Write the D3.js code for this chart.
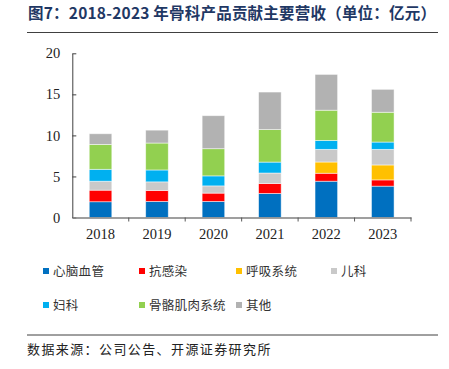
<!DOCTYPE html>
<html>
<head>
<meta charset="utf-8">
<script src="https://cdn.jsdelivr.net/npm/d3@7"></script>
<style>
  body { margin: 0; background: #fff; }
  svg { display: block; }
</style>
</head>
<body>
<div id="chart"></div>
<script>
// data (亿元)
const years = ["2018", "2019", "2020", "2021", "2022", "2023"];
const seriesNames = ["心脑血管", "抗感染", "呼吸系统", "儿科", "妇科", "骨骼肌肉系统", "其他"];
const cardio   = [1.92, 1.96, 1.96, 2.93, 4.42, 3.82];
const antiInf  = [1.41, 1.34, 1.01, 1.21, 0.97, 0.76];
const resp     = [0, 0, 0, 0, 1.37, 1.82];
const pediat   = [1.09, 1.04, 0.88, 1.28, 1.54, 1.90];
const gyn      = [1.45, 1.45, 1.22, 1.33, 1.09, 0.89];
const musculo  = [3.03, 3.28, 3.31, 3.96, 3.68, 3.63];
const other    = [1.30, 1.57, 4.02, 4.57, 4.36, 2.79];
const yTicks   = [0, 5, 10, 15, 20];

const colors = ["#0070C0", "#FF0000", "#FFC000", "#C9C9C9", "#00B0F0", "#92D050", "#B2B2B2"];
const seriesValues = [cardio, antiInf, resp, pediat, gyn, musculo, other];

const W = 449, H = 369;
const serif = "'Times New Roman', 'Liberation Serif', serif";
const cjk = "'Noto Sans CJK SC', sans-serif";

const svg = d3.select("#chart")
    .append("svg")
        .attr("width", W)
        .attr("height", H);

// title + rule
svg.append("text")
    .attr("x", 28)
    .attr("y", 19)
    .attr("fill", "#1F3864")
    .attr("font-family", cjk)
    .attr("font-weight", "bold")
    .attr("font-size", 15.5)
    .attr("textLength", 408)
    .attr("lengthAdjust", "spacing")
    .text("图7：2018-2023 年骨科产品贡献主要营收（单位：亿元）");

svg.append("line")
    .attr("x1", 27).attr("x2", 438)
    .attr("y1", 32.5).attr("y2", 32.5)
    .attr("stroke", "#404040")
    .attr("stroke-width", 1);

// scales
const x = d3.scaleBand()
    .domain(years)
    .range([72.3, 411])
    .paddingInner(0.6)
    .paddingOuter(0.3);

const y = d3.scaleLinear()
    .domain([0, 20])
    .range([217.5, 53.3]);

// stacked table built from the arrays
const table = years.map((yr, i) => {
    const row = {year: yr};
    seriesNames.forEach((s, k) => row[s] = seriesValues[k][i]);
    return row;
});
const stacked = d3.stack().keys(seriesNames)(table);

// bars
svg.append("g")
    .selectAll("g")
    .data(stacked)
    .join("g")
        .attr("fill", (d, k) => colors[k])
    .selectAll("rect")
    .data(d => d.filter(p => p[1] - p[0] > 0))
    .join("rect")
        .attr("x", d => x(d.data.year))
        .attr("width", x.bandwidth())
        .attr("y", d => y(d[1]))
        .attr("height", d => y(d[0]) - y(d[1]))
        .attr("stroke", "rgba(255,255,255,0.6)")
        .attr("stroke-width", 0.8);

// y axis
const yAxis = svg.append("g")
    .attr("transform", `translate(${x.range()[0]},0)`)
    .call(d3.axisLeft(y).tickValues(yTicks).tickSizeInner(-4).tickSizeOuter(0).tickPadding(12));
yAxis.select(".domain").attr("stroke", "#404040");
yAxis.selectAll(".tick line").attr("stroke", "#404040");
yAxis.selectAll("text")
    .attr("font-family", serif)
    .attr("font-size", 14.5)
    .attr("fill", "#222");

// x axis
const xAxis = svg.append("g")
    .attr("transform", `translate(0,${y(0)})`)
    .call(d3.axisBottom(x).tickSize(0).tickPadding(11));
xAxis.select(".domain").attr("stroke", "#7F7F7F").attr("stroke-width", 1.3);
xAxis.selectAll("text")
    .attr("font-family", serif)
    .attr("font-size", 14.5)
    .attr("fill", "#222");

// boundary ticks between categories
const gap = (x.step() - x.bandwidth()) / 2;
xAxis.append("g")
    .selectAll("line")
    .data(years)
    .join("line")
        .attr("x1", d => x(d) + x.bandwidth() + gap)
        .attr("x2", d => x(d) + x.bandwidth() + gap)
        .attr("y1", 0)
        .attr("y2", 4)
        .attr("stroke", "#595959");

// legend
const legendPos = [[43, 271], [139, 271], [236, 271], [331, 271], [43, 305], [139, 305], [236, 305]];
const legend = svg.append("g")
    .selectAll("g")
    .data(seriesNames)
    .join("g")
        .attr("transform", (d, k) => `translate(${legendPos[k][0]},${legendPos[k][1]})`);
legend.append("rect")
    .attr("x", 0).attr("y", -3)
    .attr("width", 6).attr("height", 6)
    .attr("fill", (d, k) => colors[k]);
legend.append("text")
    .attr("x", 10)
    .attr("y", 0)
    .attr("dy", "0.36em")
    .attr("font-family", cjk)
    .attr("font-size", 12.5)
    .attr("letter-spacing", 0.3)
    .attr("fill", "#333")
    .text(d => d);

// source
svg.append("line")
    .attr("x1", 27).attr("x2", 438)
    .attr("y1", 335).attr("y2", 335)
    .attr("stroke", "#404040")
    .attr("stroke-width", 1);

svg.append("text")
    .attr("x", 27)
    .attr("y", 349)
    .attr("dy", "0.36em")
    .attr("font-family", cjk)
    .attr("font-size", 13)
    .attr("letter-spacing", 1.4)
    .attr("fill", "#222")
    .text("数据来源：公司公告、开源证券研究所");
</script>
</body>
</html>
